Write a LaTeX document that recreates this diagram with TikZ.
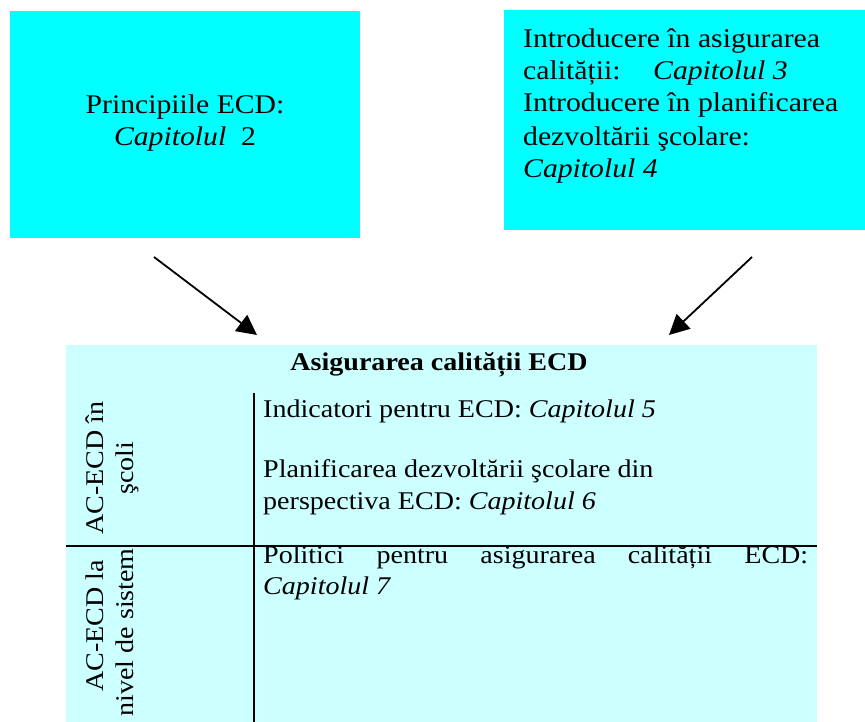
\documentclass[tikz,border=0pt]{standalone}
\usepackage{fontspec}
\setmainfont{Liberation Serif}[FakeStretch=1.1]
\usetikzlibrary{arrows.meta}
\definecolor{topcyan}{RGB}{0,255,255}
\definecolor{lightcyan}{RGB}{204,255,255}
\newcommand\diagfont{\fontsize{27}{32.5}\selectfont}
\newcommand\tablefont{\fontsize{25.5}{31}\selectfont}
\begin{document}
\begin{tikzpicture}[x=1pt,y=-1pt,
  txt/.style={inner sep=0pt, font=\diagfont, anchor=base west},
  ctxt/.style={inner sep=0pt, font=\diagfont, anchor=base},
  ttxt/.style={inner sep=0pt, font=\tablefont, anchor=base west},
  rot/.style={inner sep=0pt, font=\tablefont, rotate=90},
  conn/.style={line width=1.8pt, -{Triangle[length=20pt,width=20pt]}},
  rule/.style={line width=2.2pt}]
\useasboundingbox (0,0) rectangle (865,721);
\clip (0,0) rectangle (865,721);
% top boxes
\fill[topcyan] (10,11) rectangle (360,238);
\fill[topcyan] (504,10) rectangle (865,230);
\node[ctxt] (p1) at (185,113) {Principiile ECD:};
\node[ctxt] (p2) at (185,145) {\textit{Capitolul}\ \ 2};
\node[txt] (r1) at (523,47) {Introducere în asigurarea};
\node[txt] (r2) at (523,79) {\makebox[130pt][l]{calității:}\textit{Capitolul 3}};
\node[txt] (r3) at (523,111) {Introducere în planificarea};
\node[txt] (r4) at (523,145) {dezvoltării şcolare:};
\node[txt] (r5) at (523,177) {\textit{Capitolul 4}};
% big box
\fill[lightcyan] (66,345) rectangle (817,740);
\node[inner sep=0pt, font=\tablefont, anchor=base] (title) at (439,370) {\textbf{Asigurarea calității ECD}};
\draw[rule] (66,546) -- (817,546);
\draw[rule] (254,393) -- (254,740);
\node[ttxt] (c1) at (263,417) {Indicatori pentru ECD: \textit{Capitolul 5}};
\node[ttxt] (c2) at (263,477) {Planificarea dezvoltării şcolare din};
\node[ttxt] (c3) at (263,509) {perspectiva ECD: \textit{Capitolul 6}};
\node[ttxt] (c4) at (263,563) {\makebox[545pt][s]{Politici pentru asigurarea calității ECD:}};
\node[ttxt] (c5) at (263,594) {\textit{Capitolul 7}};
\node[rot, anchor=base] (s1) at (103,468) {AC-ECD în};
\node[rot, anchor=base] (s2) at (133,468) {şcoli};
\node[rot, anchor=base east] (n1) at (103,560) {AC-ECD la};
\node[rot, anchor=base east] (n2) at (133,548) {nivel de sistem};
% arrows
\coordinate (la) at (154,257);
\coordinate (lb) at (257,335);
\coordinate (ra) at (752,257);
\coordinate (rb) at (669,335);
\draw[conn] (la) -- (lb);
\draw[conn] (ra) -- (rb);
\end{tikzpicture}
\end{document}
